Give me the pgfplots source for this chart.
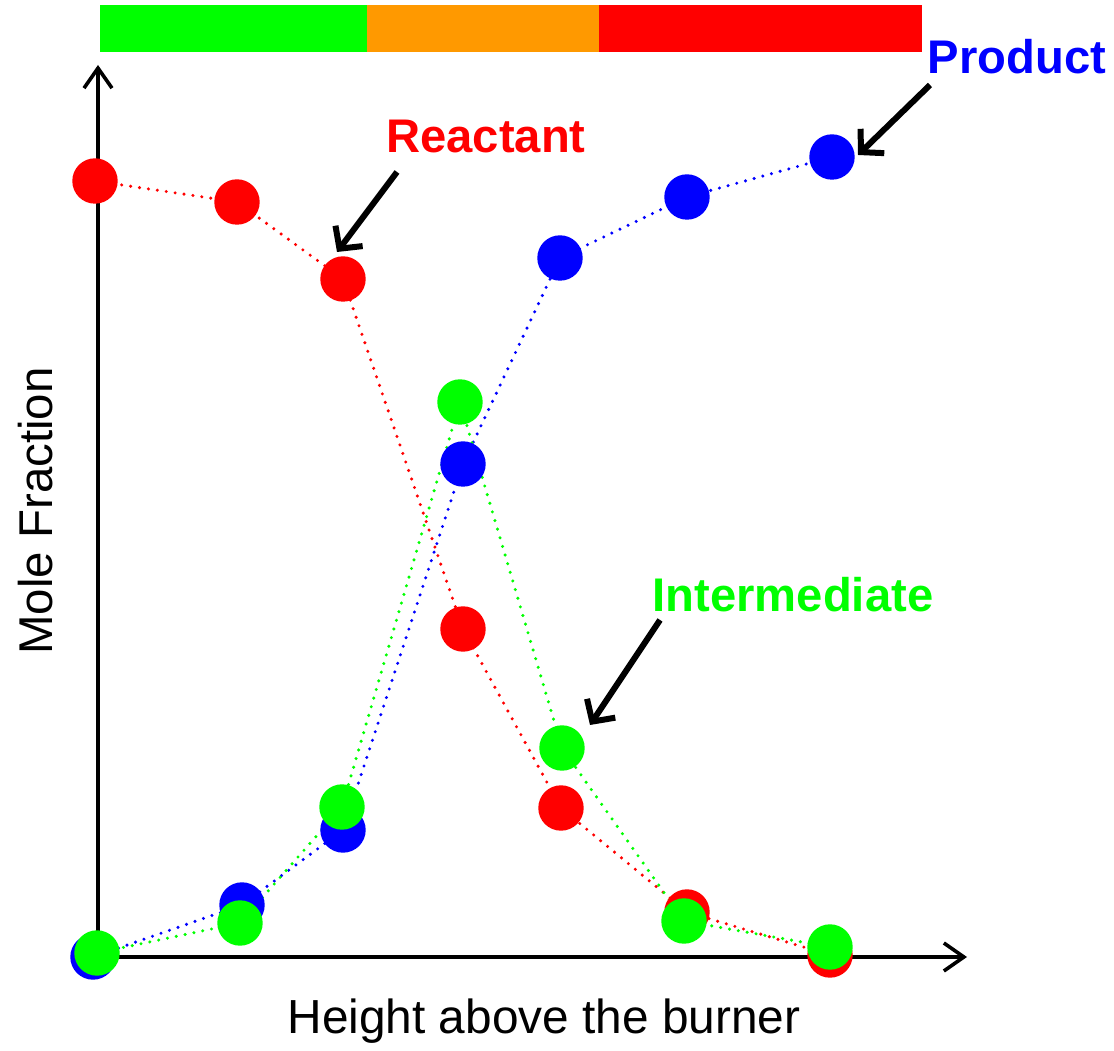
\documentclass[border=0pt]{standalone}
\usepackage{fontspec}
\setmainfont{Liberation Sans}
\usepackage{pgfplots}
\pgfplotsset{compat=1.18}
\usetikzlibrary{arrows.meta}

\definecolor{pred}{HTML}{FF0000}
\definecolor{pgreen}{HTML}{00FF00}
\definecolor{pblue}{HTML}{0000FF}
\definecolor{porange}{HTML}{FF9900}

\begin{document}
\begin{tikzpicture}
\begin{axis}[
    x=0.5pt, y=0.5pt,
    xmin=98, xmax=967,
    ymin=88, ymax=980,
    axis lines=left,
    every outer x axis line/.append style={line width=1.8pt, -{Straight Barb[length=10pt,width=14pt,line width=1.8pt]}},
    every outer y axis line/.append style={line width=1.8pt, -{Straight Barb[length=10pt,width=14pt,line width=1.8pt]}},
    xtick=\empty, ytick=\empty,
    clip=false,
    every axis plot/.append style={line width=1.7pt, line cap=round, dash pattern=on 0pt off 4.5pt},
]

% Reactant
\addplot[color=pred, mark=*, mark size=10.5pt, mark options={solid, draw=none, fill=pred}] coordinates {
    (95,864) (237,843) (343,766) (463,416) (561,237) (687,133) (830,90)
};
% Product
\addplot[color=pblue, mark=*, mark size=10.5pt, mark options={solid, draw=none, fill=pblue}] coordinates {
    (93,88) (242,140) (343,215) (463,581) (560,787) (687,848) (832,888)
};
% Intermediate
\addplot[color=pgreen, mark=*, mark size=10.5pt, mark options={solid, draw=none, fill=pgreen}] coordinates {
    (97,92) (240,122) (342,238) (460,643) (562,297) (684,124) (830,98)
};

% colour bar along the top
\fill[pgreen] (axis cs:100,993) rectangle (axis cs:367,1040);
\fill[porange] (axis cs:367,993) rectangle (axis cs:599,1040);
\fill[pred] (axis cs:599,993) rectangle (axis cs:922,1040);

% axis titles
\node[anchor=base, font=\fontsize{23.9}{28}\selectfont] at (axis cs:544,11) {Height above the burner};
\node[anchor=base, rotate=90, font=\fontsize{23.7}{28}\selectfont] at (axis cs:53,534) {Mole Fraction};

% annotations
\node[text=pred, font=\fontsize{23.6}{28}\selectfont\bfseries] at (axis cs:486,908) {Reactant};
\node[text=pblue, font=\fontsize{23.6}{28}\selectfont\bfseries] at (axis cs:1017,988) {Product};
\node[text=pgreen, font=\fontsize{23.6}{28}\selectfont\bfseries] at (axis cs:793,450) {Intermediate};

\draw[line width=3pt, -{Straight Barb[length=8pt,width=17pt,line width=3pt]}] (axis cs:397,873) -- (axis cs:337,793);
\draw[line width=3pt, -{Straight Barb[length=8pt,width=17pt,line width=3pt]}] (axis cs:930,960) -- (axis cs:858,890);
\draw[line width=3pt, -{Straight Barb[length=8pt,width=17pt,line width=3pt]}] (axis cs:660,425) -- (axis cs:590,320);

% page frame
\path (axis cs:0,0) rectangle (axis cs:1114,1045);
\end{axis}
\end{tikzpicture}
\end{document}
